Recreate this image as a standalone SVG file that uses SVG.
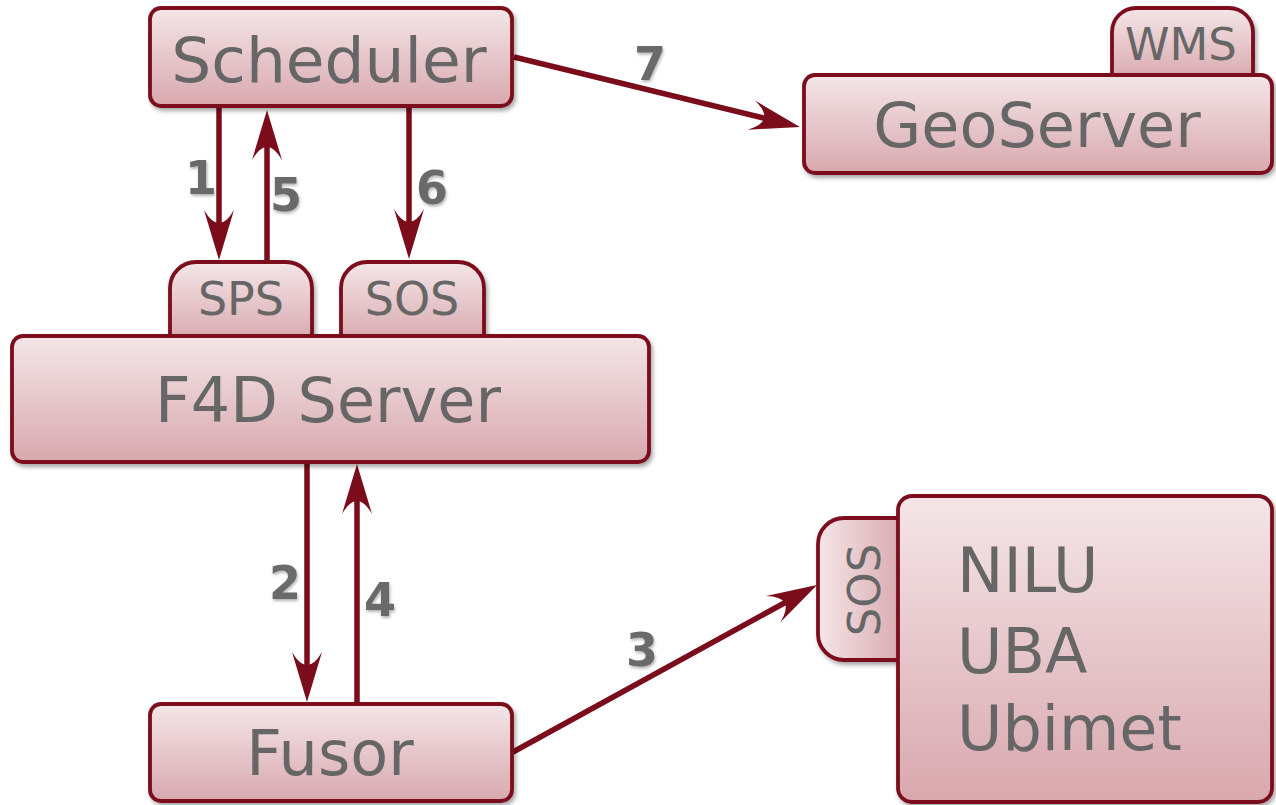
<svg xmlns="http://www.w3.org/2000/svg" width="1276" height="805" viewBox="0 0 1276 805">
<style>
.box{fill:url(#gv);stroke:#7b0c1c;stroke-width:3.8;filter:url(#sh)}
.tabs{fill:url(#gv);stroke:#7b0c1c;stroke-width:3.8;filter:url(#sh)}
.t{font-family:"DejaVu Sans",sans-serif;fill:#666666}
.lbl{font-family:"DejaVu Sans",sans-serif;font-weight:bold;font-size:46px;fill:#6a6a6a;text-anchor:middle;filter:url(#ls)}
.c{stroke:#7b0c1c;stroke-width:5.5;fill:none;marker-end:url(#ah)}
</style>
<defs>
<linearGradient id="gv" x1="0" y1="0" x2="0" y2="1">
<stop offset="0" stop-color="#f4e6e8"/>
<stop offset="1" stop-color="#d8a8ae"/>
</linearGradient>
<linearGradient id="gh" x1="0" y1="0" x2="1" y2="0">
<stop offset="0" stop-color="#f4e6e8"/>
<stop offset="1" stop-color="#d8a8ae"/>
</linearGradient>
<filter id="sh" x="-10%" y="-10%" width="125%" height="130%">
<feDropShadow dx="2" dy="3" stdDeviation="2" flood-color="#000" flood-opacity="0.35"/>
</filter>
<filter id="ls" x="-30%" y="-30%" width="160%" height="160%">
<feDropShadow dx="1" dy="2" stdDeviation="1.5" flood-color="#000" flood-opacity="0.3"/>
</filter>
<marker id="ah" markerUnits="userSpaceOnUse" viewBox="-54 -18 56 36" markerWidth="56" markerHeight="36" refX="-12" refY="0" orient="auto" overflow="visible">
<path d="M0,0 L-50,-15 Q-24,0 -50,15 Z" fill="#7b0c1c"/>
</marker>
</defs>
<rect width="1276" height="805" fill="#ffffff"/>

<g id="connectors">
<line class="c" x1="219" y1="107" x2="219" y2="248"/>
<line class="c" x1="267" y1="262" x2="267" y2="122"/>
<line class="c" x1="409" y1="107" x2="409" y2="247"/>
<line class="c" x1="307" y1="462" x2="307" y2="690"/>
<line class="c" x1="357" y1="704" x2="357" y2="476"/>
<line class="c" x1="513" y1="752" x2="806.5" y2="590.8"/>
<line class="c" x1="514" y1="57" x2="788.3" y2="124.1"/>
<text class="lbl" x="201" y="194">1</text>
<text class="lbl" x="286" y="211">5</text>
<text class="lbl" x="432" y="204">6</text>
<text class="lbl" x="650" y="80">7</text>
<text class="lbl" x="285" y="599">2</text>
<text class="lbl" x="380" y="616">4</text>
<text class="lbl" x="642" y="666">3</text>
</g>

<g id="scheduler">
<rect class="box" x="150" y="8" width="362" height="98" rx="11"/>
<text class="t" x="329" y="82" font-size="63" text-anchor="middle">Scheduler</text>
</g>

<g id="geoserver">
<path class="tabs" d="M1112,80 V32 A24,24 0 0 1 1136,8 H1229 A24,24 0 0 1 1253,32 V80 Z"/>
<text class="t" x="1181" y="60" font-size="45" text-anchor="middle">WMS</text>
<rect class="box" x="804" y="75" width="468" height="98" rx="11"/>
<text class="t" x="1037" y="147" font-size="62" text-anchor="middle">GeoServer</text>
</g>

<g id="f4d-server">
<path class="tabs" d="M170,342 V288 A26,26 0 0 1 196,262 H286 A26,26 0 0 1 312,288 V342 Z"/>
<text class="t" x="241" y="315" font-size="46" text-anchor="middle">SPS</text>
<path class="tabs" d="M341,342 V288 A26,26 0 0 1 367,262 H458 A26,26 0 0 1 484,288 V342 Z"/>
<text class="t" x="412" y="315" font-size="46" text-anchor="middle">SOS</text>
<rect class="box" x="12" y="336" width="637" height="126" rx="11"/>
<text class="t" x="328" y="422" font-size="62" text-anchor="middle">F4D Server</text>
</g>

<g id="fusor">
<rect class="box" x="150" y="704" width="362" height="97" rx="11"/>
<text class="t" x="330" y="775" font-size="62" text-anchor="middle">Fusor</text>
</g>

<g id="providers">
<path d="M905,518 H844 A26,26 0 0 0 818,544 V634 A26,26 0 0 0 844,660 H905 Z" fill="url(#gh)" stroke="#7b0c1c" stroke-width="3.8" filter="url(#sh)"/>
<text class="t" transform="translate(880,590) rotate(-90)" font-size="45" text-anchor="middle">SOS</text>
<rect class="box" x="898" y="496" width="374" height="306" rx="14"/>
<text class="t" x="957" y="592" font-size="62">NILU</text>
<text class="t" x="957" y="673" font-size="62">UBA</text>
<text class="t" x="957" y="750" font-size="62">Ubimet</text>
</g>
</svg>
